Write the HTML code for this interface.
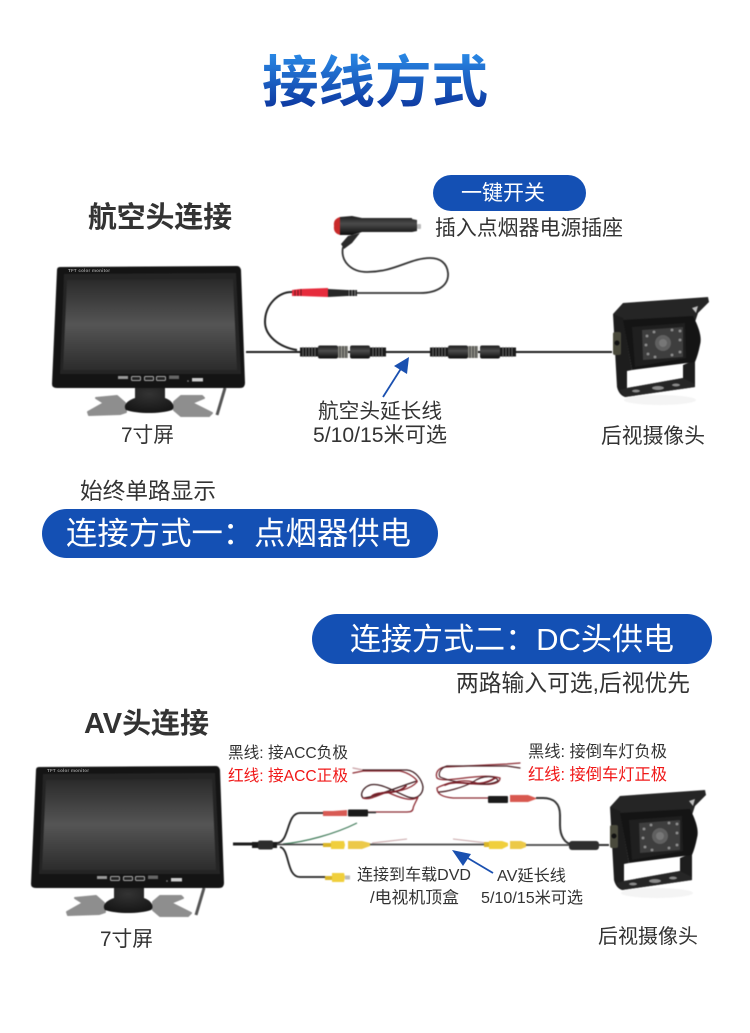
<!DOCTYPE html>
<html lang="zh"><head><meta charset="utf-8"><title>接线方式</title>
<style>
html,body{margin:0;padding:0;background:#fff}
svg{display:block}
text{font-family:"Liberation Sans","Noto Sans CJK SC",sans-serif;fill:#333}
.b{font-weight:700}
.soft{filter:blur(.4px)}
</style></head><body>
<svg width="750" height="1033" viewBox="0 0 750 1033" xmlns="http://www.w3.org/2000/svg">
<defs>
<linearGradient id="scr" x1="0" y1="0" x2="0" y2="1"><stop offset="0" stop-color="#2a2a2a"/><stop offset=".5" stop-color="#555"/><stop offset="1" stop-color="#2c2c2c"/></linearGradient>
<linearGradient id="ttl" x1="0" y1="0" x2="0" y2="1"><stop offset="0" stop-color="#2b8ce8"/><stop offset="1" stop-color="#0a2f98"/></linearGradient>
<linearGradient id="plug" x1="0" y1="0" x2="0" y2="1"><stop offset="0" stop-color="#1c1c1c"/><stop offset=".4" stop-color="#4c4c4c"/><stop offset="1" stop-color="#0c0c0c"/></linearGradient>
<radialGradient id="dome" cx=".5" cy=".3" r=".7"><stop offset="0" stop-color="#333"/><stop offset="1" stop-color="#161616"/></radialGradient>
<g id="mon">
<path d="M225,388 L217,415" stroke="#555" stroke-width="3" fill="none"/>
<path d="M96,398 L117,396 L125,403 L126,412 L120,414 L89,415 L88,412 L104,403 Z" fill="#8e8e8e" stroke="#8e8e8e" stroke-width="2" stroke-linejoin="round"/>
<path d="M174,402 L181,396 L202,396 L204,398 L192,403 L212,413 L209,416 L181,416 L174,410 Z" fill="#8e8e8e" stroke="#8e8e8e" stroke-width="2" stroke-linejoin="round"/>
<path d="M135,386 L165,386 L165,398 C174,401 175,408 172,410 C160,414 138,414 126,410 C123,406 126,401 135,398 Z" fill="url(#dome)"/>
<path d="M60,267 L237,266 Q240,266 241,270 L245,383 Q245,388 240,388 L57,388 Q52,388 52,384 L57,270 Q57,267 60,267 Z" fill="#141414"/>
<path d="M64,274 L236,273 L241,374 L60,374 Z" fill="#242424"/>
<path d="M67,280 L233,279 L237,370 L63,370 Z" fill="url(#scr)"/>
<rect x="118" y="376" width="10" height="3" fill="#9a9a9a"/>
<g fill="#222" stroke="#aaa" stroke-width="1"><rect x="131.500" y="376.500" width="9" height="4" rx="1"/><rect x="144.500" y="376.500" width="9" height="4" rx="1"/><rect x="156.500" y="376.500" width="9" height="4" rx="1"/></g>
<rect x="169" y="375.500" width="10" height="3.500" fill="#666"/>
<rect x="192" y="378" width="11" height="3.500" fill="#ccc"/>
<circle cx="188" cy="381" r=".8" fill="#999"/>
</g>
<g id="cam">
<ellipse cx="660" cy="400" rx="36" ry="5" fill="#f4f4f4"/>
<path d="M613,314 L623,303 L708,297 L709,302 L698,313 L695,322 L625,322 Z" fill="#252525"/>
<path d="M613,314 L623,318 L632,370 L627,371 L627,388 L683,378 L683,365 L695,360 L695,387 L625,397 Q619,395 617,387 Z" fill="#1d1d1d"/>
<path d="M627,388 L683,378 L695,384 L695,387 L625,397 L619,390 Z" fill="#262626"/>
<ellipse cx="636" cy="391" rx="4" ry="1.500" fill="#8a8a8a"/><ellipse cx="658" cy="388" rx="6" ry="2" fill="#8a8a8a"/><ellipse cx="676" cy="385" rx="4" ry="1.500" fill="#8a8a8a"/>
<path d="M692,308 L698,306 L696,313 Z" fill="#bdbdbd"/>
<path d="M623,320 L693,316 Q703,335 700,345 Q698,355 695,362 L632,370 Z" fill="#141414"/>
<path d="M632,327 L685,323 L686,358 L635,367 Z" fill="#1f1f1f"/>
<path d="M642,330 L683,327 L683,357 L643,360 Z" fill="#3e3e3e"/>
<circle cx="663" cy="343" r="8" fill="#606060"/><circle cx="663" cy="343" r="4" fill="#777"/>
<g fill="#8c8c8c"><circle cx="647" cy="336" r="1.500"/><circle cx="646" cy="345" r="1.500"/><circle cx="648" cy="354" r="1.500"/><circle cx="654" cy="332" r="1.500"/><circle cx="672" cy="330" r="1.500"/><circle cx="680" cy="331" r="1.500"/><circle cx="680" cy="340" r="1.500"/><circle cx="680" cy="352" r="1.500"/><circle cx="655" cy="357" r="1.500"/><circle cx="672" cy="355" r="1.500"/></g>
<rect x="613" y="332" width="8" height="23" rx="2" fill="#4a4a3c"/>
<circle cx="617" cy="343" r="2.500" fill="#111"/>
</g>
<g id="avc">
<rect x="0" y="-4.500" width="18" height="9" fill="#1a1a1a"/>
<path d="M3,-5V5M6,-5V5M9,-5V5M12,-5V5M15,-5V5" stroke="#777" stroke-width=".8"/>
<rect x="18" y="-6.500" width="20" height="13" rx="2" fill="url(#plug)"/>
<rect x="38" y="-6" width="10" height="12" fill="#8a8a82"/><path d="M40,-6V6M43,-6V6M46,-6V6" stroke="#444"/>
<rect x="50" y="-6.500" width="20" height="13" rx="2" fill="url(#plug)"/>
<rect x="70" y="-4.500" width="16" height="9" fill="#1a1a1a"/>
<path d="M73,-5V5M76,-5V5M79,-5V5M82,-5V5" stroke="#777" stroke-width=".8"/>
</g>
</defs>

<!-- title -->
<text x="262" y="102" font-size="56" class="b" textLength="226" lengthAdjust="spacingAndGlyphs" style="fill:url(#ttl)">接线方式</text>

<!-- section 1 -->
<rect x="433" y="175" width="153" height="36" rx="18" fill="#1450b4"/>
<text x="461" y="200" font-size="21" textLength="84" lengthAdjust="spacingAndGlyphs" style="fill:#fff">一键开关</text>
<text x="88" y="227" font-size="29" class="b" textLength="144" lengthAdjust="spacingAndGlyphs">航空头连接</text>
<text x="435" y="235" font-size="21" textLength="188" lengthAdjust="spacingAndGlyphs">插入点烟器电源插座</text>

<use href="#mon" class="soft"/>
<text x="68" y="272" font-size="4.500" class="b" style="fill:#999" textLength="42">TFT color monitor</text>
<use href="#cam" class="soft"/>

<g class="soft">
<path d="M246,352 H612" stroke="#1c1c1c" stroke-width="2" fill="none"/>
<use href="#avc" x="300" y="352"/>
<use href="#avc" x="430" y="352"/>
<path d="M297,350 C278,347 265,335 265,322 C265,305 278,292 292,292" stroke="#222" stroke-width="2" fill="none"/>
<path d="M292,290 L300,289 L328,288 V297 L300,296 L292,296 Z" fill="#e62b3c"/>
<path d="M295,290V296M298,290V296M301,289V296" stroke="#6e1a20"/>
<path d="M328,289 L347,290 V296 L328,297 Z" fill="#262626"/>
<rect x="347" y="290" width="10" height="6" fill="#222"/><path d="M349,290V296M352,290V296M355,290V296" stroke="#999" stroke-width=".8"/>
<path d="M357,293 H420 C438,293 449,285 448,273 C447,263 440,258 430,258 C410,258 395,272 367,272 C352,272 340,262 343,247" stroke="#333" stroke-width="1.800" fill="none"/>
<path d="M341,244 L348,236 L360,233 L352,243 L344,249 Z" fill="#2a2a2a"/>
<path d="M340,217 L352,216 L362,218 H412 V219 L417,220 V231 L412,232 H362 L352,235 H340 Z" fill="url(#plug)"/>
<rect x="417" y="224" width="4" height="5" rx="1" fill="#bbb"/>
<path d="M340,217 Q333,219 334,226 Q333,233 340,235 Z" fill="#c92a2a"/>
</g>
<path d="M383,397 L402,367" stroke="#1a50b0" stroke-width="1.800"/>
<path d="M409,357 L407,374 L394,366 Z" fill="#1a50b0"/>

<text x="318" y="418" font-size="20.700" textLength="124" lengthAdjust="spacingAndGlyphs">航空头延长线</text>
<text x="313" y="442" font-size="21" textLength="134" lengthAdjust="spacingAndGlyphs">5/10/15米可选</text>
<text x="121" y="442" font-size="21" textLength="53" lengthAdjust="spacingAndGlyphs">7寸屏</text>
<text x="601" y="443" font-size="20.800" textLength="104" lengthAdjust="spacingAndGlyphs">后视摄像头</text>

<text x="80" y="499" font-size="22.700" textLength="136" lengthAdjust="spacingAndGlyphs">始终单路显示</text>
<rect x="42" y="509" width="396" height="49" rx="24.500" fill="#1450b4"/>
<text x="66" y="544" font-size="31.400" textLength="345" lengthAdjust="spacingAndGlyphs" style="fill:#fff">连接方式一：点烟器供电</text>

<!-- section 2 -->
<rect x="312" y="614" width="400" height="50" rx="25" fill="#1450b4"/>
<text x="350" y="650" font-size="31" textLength="324" lengthAdjust="spacingAndGlyphs" style="fill:#fff">连接方式二：DC头供电</text>
<text x="456" y="691" font-size="23.400" textLength="234" lengthAdjust="spacingAndGlyphs">两路输入可选,后视优先</text>
<text x="84" y="733" font-size="28.500" class="b" textLength="125" lengthAdjust="spacingAndGlyphs">AV头连接</text>

<text x="228" y="758" font-size="16" textLength="120" lengthAdjust="spacingAndGlyphs">黑线: 接ACC负极</text>
<text x="228" y="781" font-size="16" textLength="120" lengthAdjust="spacingAndGlyphs" style="fill:#f01818">红线: 接ACC正极</text>
<text x="528" y="757" font-size="16.200" textLength="139" lengthAdjust="spacingAndGlyphs">黑线: 接倒车灯负极</text>
<text x="528" y="780" font-size="16.200" textLength="139" lengthAdjust="spacingAndGlyphs" style="fill:#f01818">红线: 接倒车灯正极</text>

<use href="#mon" x="-21" y="500" class="soft"/>
<text x="47" y="772" font-size="4.500" class="b" style="fill:#999" textLength="42">TFT color monitor</text>
<use href="#cam" x="-3" y="493" class="soft"/>

<g class="soft">
<!-- red cables left -->
<g fill="none" stroke-linecap="round">
<path d="M353,768 L363,770" stroke="#c8a0a4" stroke-width="1.200"/>
<path d="M363,770 H407 C416,771 422,780 423,787 C423,795 416,800 408,797 C395,792 380,782 370,785 C362,788 360,795 363,798 C372,798 395,788 417,781" stroke="#3c1c20" stroke-width="1.300"/>
<path d="M353,773 L363,771 H400 C410,773 418,780 417,782 C410,790 395,792 387,792 C375,797 368,800 363,798 M387,792 C400,798 412,802 418,797 C416,802 413,806 413,809 C412,812 410,812 405,812 H368" stroke="#8c2a32" stroke-width="1.300"/>
<path d="M372,796 C380,790 396,796 406,786" stroke="#7a1f28" stroke-width="1.800"/>
</g>
<!-- left harness -->
<path d="M233,844 H256" stroke="#1c1c1c" stroke-width="3" fill="none"/>
<path d="M252,842 H277 V848 H252 Z" fill="#1a1a1a"/><rect x="258" y="840.500" width="15" height="9" rx="2" fill="#2d2d2d"/>
<path d="M277,843 C290,842 286,813 300,813 H324" stroke="#222" stroke-width="1.800" fill="none"/>
<path d="M280,847 C290,849 286,877 300,877 H326" stroke="#222" stroke-width="1.800" fill="none"/>
<path d="M283,844 C305,842 335,834 357,823" stroke="#3f7a58" stroke-width="1.200" fill="none"/>
<path d="M277,844.500 H324" stroke="#333" stroke-width="1.500" fill="none"/>
<path d="M323,811 H333 L347,810 V816 L333,816 H323 Z" fill="#d85a54"/>
<rect x="348" y="809.500" width="20" height="7" rx="1" fill="#1a1a1a"/>
<path d="M368,812.500 H376" stroke="#333" stroke-width="1.600"/>
<rect x="323" y="843" width="8" height="4" fill="#d9b528"/><path d="M331,841 H344 L345,845 L344,849 H331 Z" fill="#f0cf3c"/>
<path d="M348,841 H362 L370,843 V846 L362,849 H348 Z" fill="#ecc948"/>
<path d="M372,843 L407,839" stroke="#c8a6a8" stroke-width="1.100" fill="none"/>
<path d="M370,844.500 H488" stroke="#454545" stroke-width="1.800"/>
<path d="M453,839 L487,843" stroke="#c8a6a8" stroke-width="1.100"/>
<rect x="325" y="876" width="7" height="4" fill="#d9b528"/><path d="M332,873 H344 L345,877 L344,882 H332 Z" fill="#f0cf3c"/>
<rect x="345" y="875.500" width="5" height="4" fill="#bbb"/>

<!-- right cables -->
<g fill="none" stroke-linecap="round">
<path d="M520,763 L507,764 L445,767 C438,768 435,773 437,778 C445,784 480,772 500,778 C500,785 485,786 473,782 C460,778 440,786 437,788 C437,794 442,797 453,798 H488" stroke="#8c2a32" stroke-width="1.300"/>
<path d="M520,768 L507,766 H447 C440,768 438,774 440,777 C452,782 485,788 498,781 C497,775 482,775 473,782 C462,788 445,792 439,792" stroke="#4a2025" stroke-width="1.200"/>
<path d="M445,785 C458,778 478,790 495,778" stroke="#7a1f28" stroke-width="1.800"/>
</g>
<rect x="488" y="796" width="20" height="7" rx="1" fill="#1a1a1a"/>
<path d="M510,795 H528 L536,798 V799 L528,802 H510 Z" fill="#d8584f"/>
<path d="M536,798 H543 C553,798 560,803 560,815 V825 C560,836 565,844 572,844" stroke="#333" stroke-width="2" fill="none"/>
<rect x="484" y="842" width="5" height="5" fill="#d9b528"/><path d="M489,841 H502 L508,843 V846 L502,849 H489 Z" fill="#f0cf3c"/>
<path d="M510,841 H521 L526,843 V847 L521,849 H510 Z" fill="#ecc948"/>
<path d="M526,845 H570" stroke="#444" stroke-width="1.800" fill="none"/>
<rect x="569" y="841" width="30" height="9" rx="3" fill="#2e2e2e"/>
<path d="M598,845 H609" stroke="#333" stroke-width="2" fill="none"/>
</g>

<path d="M493,873 L466,857" stroke="#1a50b0" stroke-width="1.800"/>
<path d="M452,850 L471,854 L463,866 Z" fill="#1a50b0"/>

<text x="357" y="880" font-size="16" textLength="114" lengthAdjust="spacingAndGlyphs">连接到车载DVD</text>
<text x="370" y="903" font-size="16.500" textLength="89" lengthAdjust="spacingAndGlyphs">/电视机顶盒</text>
<text x="497" y="881" font-size="16" textLength="69" lengthAdjust="spacingAndGlyphs">AV延长线</text>
<text x="481" y="903" font-size="16" textLength="102" lengthAdjust="spacingAndGlyphs">5/10/15米可选</text>
<text x="100" y="946" font-size="21" textLength="53" lengthAdjust="spacingAndGlyphs">7寸屏</text>
<text x="598" y="943" font-size="20" textLength="100" lengthAdjust="spacingAndGlyphs">后视摄像头</text>
</svg>
</body></html>
